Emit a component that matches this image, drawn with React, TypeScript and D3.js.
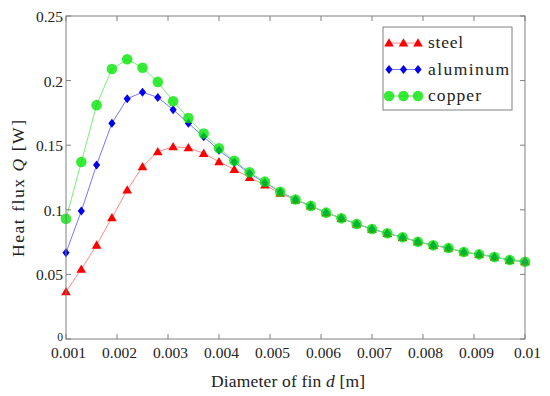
import React from "react";
import * as d3 from "d3";

const diameters: number[] = Array.from({ length: 31 }, (_, i) => +(0.001 + i * 0.0003).toFixed(4));

const steel: number[] = [
  0.0366, 0.054, 0.0727, 0.0939, 0.1153, 0.1334, 0.145, 0.1488, 0.148, 0.1437,
  0.1372, 0.1313, 0.125, 0.1192, 0.1128, 0.1076, 0.103, 0.0978, 0.0934, 0.089,
  0.0851, 0.0818, 0.0787, 0.0753, 0.0725, 0.0704, 0.0673, 0.0655, 0.0635, 0.0611, 0.0598,
];
const aluminum: number[] = [
  0.0668, 0.099, 0.1347, 0.167, 0.186, 0.191, 0.187, 0.1775, 0.167, 0.1566,
  0.146, 0.137, 0.128, 0.121, 0.114, 0.108, 0.103, 0.0978, 0.0934, 0.089,
  0.0851, 0.0818, 0.0787, 0.0753, 0.0725, 0.0704, 0.0673, 0.0655, 0.0635, 0.0611, 0.0598,
];
const copper: number[] = [
  0.093, 0.137, 0.181, 0.209, 0.2165, 0.21, 0.199, 0.184, 0.171, 0.159,
  0.1476, 0.138, 0.129, 0.1218, 0.114, 0.108, 0.103, 0.0978, 0.0934, 0.089,
  0.0851, 0.0818, 0.0787, 0.0753, 0.0725, 0.0704, 0.0673, 0.0655, 0.0635, 0.0611, 0.0598,
];

const xTicks: number[] = [0.001, 0.002, 0.003, 0.004, 0.005, 0.006, 0.007, 0.008, 0.009, 0.01];
const xTickLabels: string[] = ["0.001", "0.002", "0.003", "0.004", "0.005", "0.006", "0.007", "0.008", "0.009", "0.01"];
const yTicks: number[] = [0, 0.05, 0.1, 0.15, 0.2, 0.25];
const yTickLabels: string[] = ["0", "0.05", "0.1", "0.15", "0.2", "0.25"];
const seriesNames: string[] = ["steel", "aluminum", "copper"];

const W = 550;
const H = 396;
const left = 66, right = 525, top = 16, bottom = 339;
const FONT = "'Liberation Serif', 'DejaVu Serif', serif";
const legendTextWidths = [35, 81, 53];

const x = d3.scaleLinear().domain([0.001, 0.01]).range([left, right]);
const y = d3.scaleLinear().domain([0, 0.25]).range([bottom, top]);

const triPath = d3.symbol().type(d3.symbolTriangle).size(40)() as string;
const diaPath = "M0,-4.5L3.6,0L0,4.5L-3.6,0Z";

function Marker({ kind, cx, cy }: { kind: number; cx: number; cy: number }) {
  if (kind === 0) return <path d={triPath} transform={`translate(${cx},${cy + 0.8})`} fill="#ff0000" />;
  if (kind === 1) return <path d={diaPath} transform={`translate(${cx},${cy})`} fill="#0000ee" />;
  return <circle cx={cx} cy={cy} r={5.3} fill="#00e600" fillOpacity={0.78} />;
}

export default function App() {
  const series = [steel, aluminum, copper];
  const lineColors = ["#ff8888", "#7777ff", "#77f077"];
  const line = d3
    .line<number>()
    .x((_, i) => x(diameters[i]))
    .y((v) => y(v));
  const axisColor = "#808080";
  const tickLen = 5;
  const textStyle = { fontFamily: FONT };
  return (
    <svg width={W} height={H} style={{ position: "absolute", left: 0, top: 0, fontFamily: FONT }}>
      <rect width={W} height={H} fill="#fff" />
      {series.map((s, k) => (
        <path key={"l" + k} d={line(s) as string} fill="none" stroke={lineColors[k]} strokeWidth={1} />
      ))}
      {series.map((s, k) => (
        <g key={"m" + k}>
          {s.map((v, i) => (
            <Marker key={i} kind={k} cx={x(diameters[i])} cy={y(v)} />
          ))}
        </g>
      ))}
      <rect x={left} y={top} width={right - left} height={bottom - top} fill="none" stroke={axisColor} strokeWidth={1} />
      {xTicks.map((t, i) => (
        <g key={"xt" + i}>
          <line x1={x(t)} x2={x(t)} y1={bottom} y2={bottom - tickLen} stroke={axisColor} />
          <line x1={x(t)} x2={x(t)} y1={top} y2={top + tickLen} stroke={axisColor} />
          <text x={x(t) + 2.5} y={358} fontSize={15.5} style={textStyle} textAnchor="middle" fill="#222">
            {xTickLabels[i]}
          </text>
        </g>
      ))}
      {yTicks.map((t, i) => (
        <g key={"yt" + i}>
          <line x1={left} x2={left + tickLen} y1={y(t)} y2={y(t)} stroke={axisColor} />
          <line x1={right} x2={right - tickLen} y1={y(t)} y2={y(t)} stroke={axisColor} />
          <text
            x={left - 3}
            y={t === 0 ? y(t) + 2 : y(t) + 6}
            fontSize={t === 0 ? 11.5 : 15.5}
            style={textStyle}
            textAnchor="end"
            fill="#222"
          >
            {yTickLabels[i]}
          </text>
        </g>
      ))}
      <text
        x={288}
        y={387}
        fontSize={17.5}
        style={textStyle}
        textAnchor="middle"
        fill="#222"
        textLength={154}
        lengthAdjust="spacing"
      >
        Diameter of fin <tspan fontStyle="italic">d</tspan> [m]
      </text>
      <text
        transform="translate(24,188.5) rotate(-90)"
        fontSize={17.5}
        style={textStyle}
        textAnchor="middle"
        fill="#222"
        textLength={137}
        lengthAdjust="spacing"
      >
        Heat flux <tspan fontStyle="italic">Q</tspan> [W]
      </text>
      <rect x={383} y={27} width={129} height={83} fill="#fff" stroke={axisColor} strokeWidth={1} />
      {seriesNames.map((name, k) => {
        const ly = 43 + k * 26.5;
        return (
          <g key={"lg" + k}>
            <line x1={389} x2={418} y1={ly} y2={ly} stroke={lineColors[k]} />
            {[389, 403.5, 418].map((mx, j) => (
              <Marker key={j} kind={k} cx={mx} cy={ly} />
            ))}
            <text
              x={428}
              y={ly + 5}
              fontSize={17.5}
              style={textStyle}
              fill="#222"
              textLength={legendTextWidths[k]}
              lengthAdjust="spacing"
            >
              {name}
            </text>
          </g>
        );
      })}
    </svg>
  );
}
